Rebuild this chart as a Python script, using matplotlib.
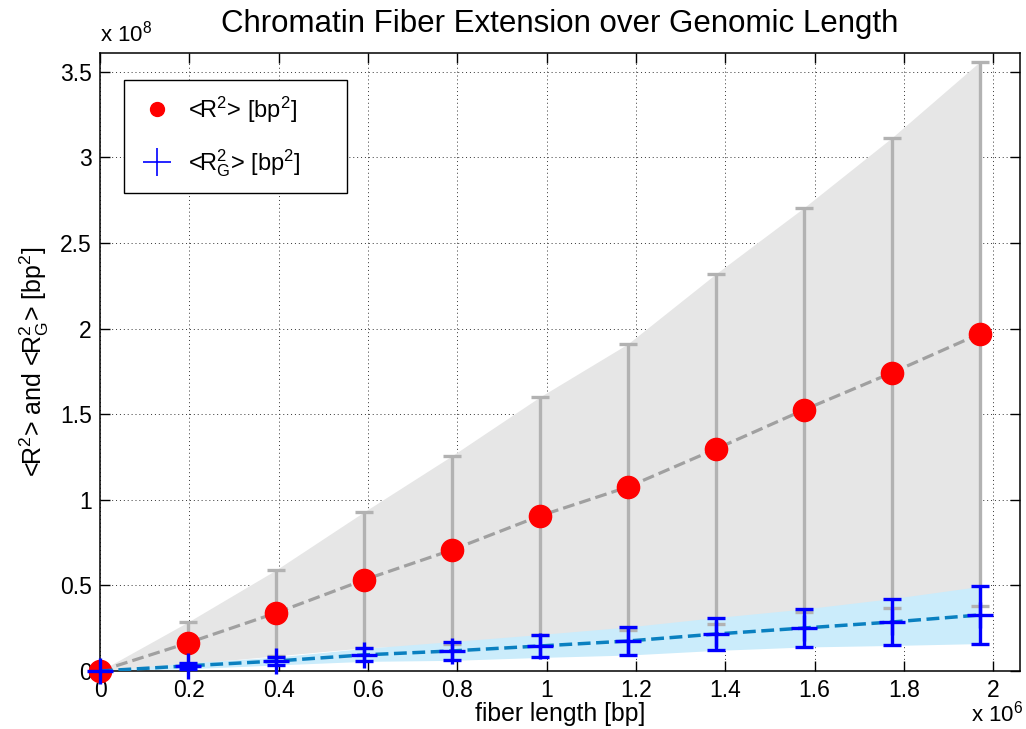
import matplotlib
matplotlib.use("Agg")
import matplotlib.pyplot as plt
from matplotlib.lines import Line2D
import numpy as np

plt.rcParams['font.family'] = ['Liberation Sans', 'DejaVu Sans']
plt.rcParams['mathtext.fontset'] = 'custom'
plt.rcParams['mathtext.rm'] = 'Liberation Sans'
plt.rcParams['mathtext.it'] = 'Liberation Sans'

# fiber length in units of 10^6 bp
fiber_length = [0.0, 0.197, 0.394, 0.591, 0.788, 0.985, 1.182, 1.379, 1.576, 1.773, 1.970]
# mean squared end-to-end distance and its spread, units of 10^8 bp^2
r2_mean = [0.0, 0.164, 0.339, 0.532, 0.707, 0.906, 1.075, 1.297, 1.525, 1.742, 1.970]
r2_std = [0.0, 0.122, 0.251, 0.397, 0.550, 0.695, 0.836, 1.023, 1.181, 1.373, 1.589]
# mean squared radius of gyration and its spread, units of 10^8 bp^2
rg2_mean = [0.0, 0.030, 0.058, 0.094, 0.117, 0.146, 0.175, 0.216, 0.251, 0.286, 0.327]
rg2_std = [0.0, 0.017, 0.023, 0.038, 0.055, 0.067, 0.082, 0.096, 0.111, 0.137, 0.167]

x_ticks = [0, 0.2, 0.4, 0.6, 0.8, 1.0, 1.2, 1.4, 1.6, 1.8, 2.0]
x_ticklabels = ['0', '0.2', '0.4', '0.6', '0.8', '1', '1.2', '1.4', '1.6', '1.8', '2']
y_ticks = [0, 0.5, 1.0, 1.5, 2.0, 2.5, 3.0, 3.5]
y_ticklabels = ['0', '0.5', '1', '1.5', '2', '2.5', '3', '3.5']

x = np.array(fiber_length)
r2m, r2s = np.array(r2_mean), np.array(r2_std)
rgm, rgs = np.array(rg2_mean), np.array(rg2_std)

fig = plt.figure(figsize=(10.26, 7.29), dpi=100)
ax = fig.add_axes([0.0975, 0.0796, 0.8967, 0.8477])
ax.set_axisbelow(True)

# spread bands
ax.fill_between(x, r2m - r2s, r2m + r2s, color='#e6e6e6', lw=0, zorder=1)
ax.fill_between(x, rgm - rgs, rgm + rgs, color='#cbecfb', lw=0, zorder=2)

# end-to-end distance
ax.errorbar(x, r2m, yerr=r2s, fmt='none', ecolor='#b2b2b2', elinewidth=2.4,
            capsize=6.5, capthick=2.4, zorder=3)
ax.plot(x, r2m, '--', color='#a0a0a0', lw=2.3, zorder=4)
ax.plot(x, r2m, 'o', color='red', ms=16, mec='red', zorder=5, clip_on=False)

# radius of gyration
ax.plot(x, rgm, '--', color='#0a80c0', lw=2.5, zorder=6)
ax.errorbar(x, rgm, yerr=rgs, fmt='none', ecolor='blue', elinewidth=2.4,
            capsize=6.5, capthick=2.4, zorder=7)
ax.plot(x, rgm, '+', color='blue', ms=19, mew=2.4, zorder=8, clip_on=False)

ax.set_xlim(0, 2.06)
ax.set_ylim(0, 3.61)
ax.set_xticks(x_ticks)
ax.set_xticklabels(x_ticklabels)
ax.set_yticks(y_ticks)
ax.set_yticklabels(y_ticklabels)
ax.tick_params(direction='in', length=7, width=1, labelsize=16.5,
               top=True, right=True, pad=6)
ax.grid(True, linestyle=(0, (1, 3)), color='#333333', lw=0.7)
for sp in ax.spines.values():
    sp.set_linewidth(1.1)

ax.set_title('Chromatin Fiber Extension over Genomic Length', fontsize=22.5, pad=15)
ax.set_xlabel('fiber length [bp]', fontsize=17.8, labelpad=0)
ax.set_ylabel(r'<R$^2$> and <R$_G^2$> [bp$^2$]', fontsize=18, labelpad=6)

ax.text(0.0, 1.01, r'x 10$^8$', transform=ax.transAxes, fontsize=16,
        ha='left', va='bottom')
fig.text(0.997, 0.003, r'x 10$^6$', fontsize=16, ha='right', va='bottom')

handles = [
    Line2D([], [], ls='none', marker='o', color='red', ms=10),
    Line2D([], [], ls='none', marker='+', color='blue', ms=20, mew=1.2),
]
labels = [r'<R$^2$> [bp$^2$]', r'<R$_G^2$> [bp$^2$]']
leg = ax.legend(handles, labels, loc='upper left',
                bbox_to_anchor=(0.026, 0.77, 0.242, 0.186), mode='expand',
                fontsize=17, frameon=True, fancybox=False, edgecolor='black',
                framealpha=1, borderpad=0.6, labelspacing=0.95, handlelength=1.6,
                handletextpad=0.5, borderaxespad=0)
leg.get_frame().set_linewidth(1.0)
leg.set_zorder(10)

fig.savefig('out.png', dpi=100)
